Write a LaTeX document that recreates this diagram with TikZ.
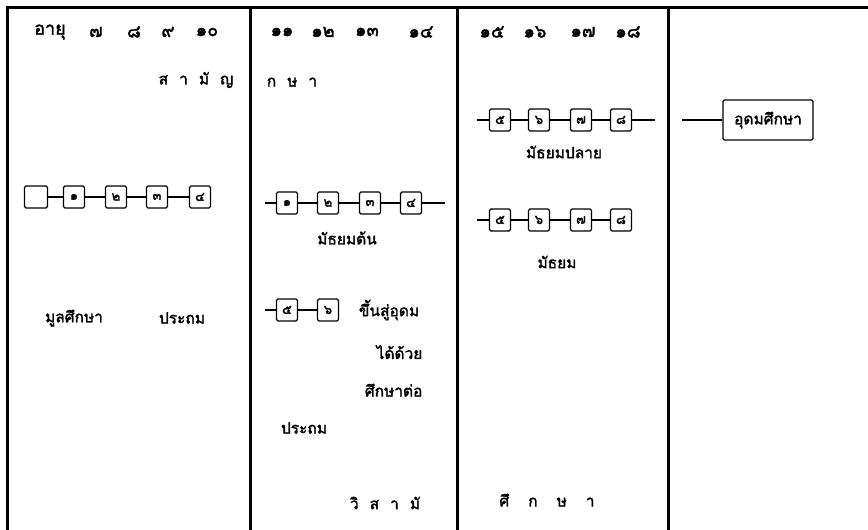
\documentclass[tikz,border=0pt]{standalone}
\usepackage{fontspec}
\newfontfamily\thaifont[Script=Thai,FakeBold=2]{Loma}
\usetikzlibrary{positioning}
\newcommand\lgap{\hspace{11pt}}
\newcommand\wgap{\hspace{19pt}}
\tikzset{
  yearbox/.style={draw, rounded corners=1.5pt, minimum width=21pt, minimum height=22pt,
    inner sep=0pt, font=\thaifont\fontsize{13}{13}\selectfont},
  lbl/.style={inner sep=0pt, font=\thaifont\fontsize{15.5}{17}\selectfont},
  head/.style={inner sep=0pt, font=\thaifont\fontsize{18}{18}\selectfont},
  frame/.style={line width=3pt}
}
\begin{document}
\begin{tikzpicture}[x=1pt,y=-1pt,line width=1.2pt]
\useasboundingbox (0,0) rectangle (868,530);
\draw[frame] (7,530) -- (7,7) -- (868,7);
\foreach \x in {250,457,668}
  \draw[frame] (\x,7) -- (\x,530);

\node[head] (age) at (50,32) {อายุ};
\foreach \t/\x [count=\i] in {๗/96,๘/134,๙/168,๑๐/207,๑๑/282,๑๒/323,๑๓/367,๑๔/421,๑๕/492,๑๖/535,๑๗/583,๑๘/628}
  \node[head] (yr\i) at (\x,32) {\t};

\node[lbl] (gen1) at (196,80) {ส\lgap า\lgap มั\lgap ญ};
\node[lbl] (gen2) at (292,82) {ก\lgap ษ\lgap า};
\node[lbl] (voc1) at (385,503) {วิ\lgap ส\lgap า\lgap มั};
\node[lbl] (voc2) at (547,500) {ศึ\wgap ก\wgap ษ\wgap า};

\node[yearbox, minimum width=23pt] (k0) at (36,197) {};
\node[yearbox] (k1) at (74,197) {๑};
\node[yearbox] (k2) at (116,197) {๒};
\node[yearbox] (k3) at (157,197) {๓};
\node[yearbox] (k4) at (200,197) {๔};
\draw (k0) -- (k1) -- (k2) -- (k3) -- (k4);
\node[lbl] (pre) at (74,318) {มูลศึกษา};
\node[lbl] (pri) at (182,318) {ประถม};

\coordinate (ma) at (265,203);
\coordinate (mb) at (445,203);
\node[yearbox] (m1) at (287,203) {๑};
\node[yearbox] (m2) at (328,203) {๒};
\node[yearbox] (m3) at (370,203) {๓};
\node[yearbox] (m4) at (411,203) {๔};
\draw (ma) -- (m1) -- (m2) -- (m3) -- (m4) -- (mb);
\node[lbl] (lowsec) at (347,238) {มัธยมต้น};

\coordinate (pa) at (265,310);
\node[yearbox] (p5) at (287,310) {๕};
\node[yearbox] (p6) at (328,310) {๖};
\draw (pa) -- (p5) -- (p6);
\node[lbl] (up1) at (389,310) {ขึ้นสู่อุดม};
\node[lbl, anchor=east] (up2) at (423,352) {ได้ด้วย};
\node[lbl, anchor=east] (up3) at (423,390) {ศึกษาต่อ};
\node[lbl] (pri2) at (304,428) {ประถม};

\coordinate (ua) at (477,120);
\coordinate (ub) at (655,120);
\node[yearbox] (u5) at (500,120) {๕};
\node[yearbox] (u6) at (539,120) {๖};
\node[yearbox] (u7) at (581,120) {๗};
\node[yearbox] (u8) at (621,120) {๘};
\draw (ua) -- (u5) -- (u6) -- (u7) -- (u8) -- (ub);
\node[lbl] (uppsec) at (564,152) {มัธยมปลาย};

\coordinate (sa) at (477,220);
\node[yearbox] (s5) at (500,220) {๕};
\node[yearbox] (s6) at (539,220) {๖};
\node[yearbox] (s7) at (581,220) {๗};
\node[yearbox] (s8) at (621,220) {๘};
\draw (sa) -- (s5) -- (s6) -- (s7) -- (s8);
\node[lbl] (sec) at (557,262) {มัธยม};

\coordinate (ha) at (682,120);
\node[draw, rounded corners=1.5pt, minimum width=90pt, minimum height=40pt, lbl] (higher) at (768,120) {อุดมศึกษา};
\draw (ha) -- (higher);
\end{tikzpicture}
\end{document}
